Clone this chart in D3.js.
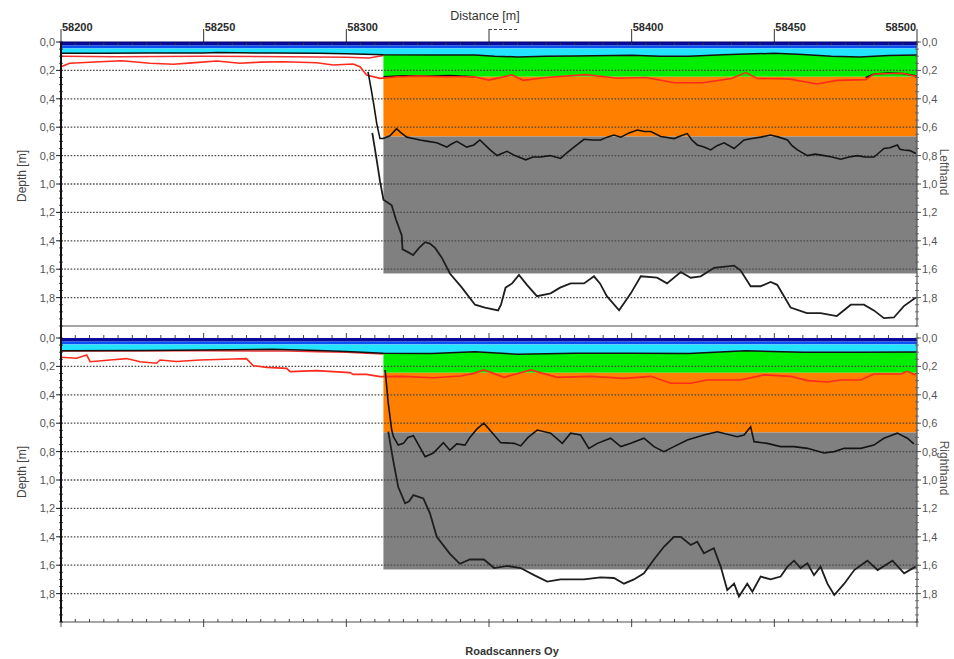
<!DOCTYPE html>
<html><head><meta charset="utf-8">
<script src="https://cdn.jsdelivr.net/npm/d3@7"></script>
<style>body{margin:0;background:#fff}svg{display:block}</style>
</head><body><svg id="c" width="954" height="659"></svg>
<script>
// ---------- DATA ----------
const distDomain = [58200, 58500];
const depthDomain = [0, 2];
const distMajor = [58200, 58250, 58300, 58350, 58400, 58450, 58500];
const distLabels = ["58200", "58250", "58300", "", "58400", "58450", "58500"];
const depthMajor = [0, 0.2, 0.4, 0.6, 0.8, 1.0, 1.2, 1.4, 1.6, 1.8];
const depthLabels = ["0,0", "0,2", "0,4", "0,6", "0,8", "1,0", "1,2", "1,4", "1,6", "1,8"];
const sectionStart = 58313;            // start of interpreted structure
const bandDepths = [0, 0.025, 0.045];  // asphalt surface bands
const greenBottom = 0.245;
const orangeBottom = 0.665;
const grayBottom = 1.63;
const panelNames = ["Lefthand", "Righthand"];

// top panel (Lefthand)
const topTop = [[58200,0.08],[58215,0.079],[58230,0.078],[58250,0.077],[58255,0.074],[58262,0.076],[58275,0.078],[58290,0.08],[58300,0.082],[58313,0.09],[58330,0.092],[58345,0.092],[58352,0.1],[58360,0.105],[58370,0.1],[58380,0.098],[58400,0.094],[58410,0.1],[58420,0.1],[58432,0.09],[58440,0.085],[58450,0.08],[58460,0.088],[58470,0.1],[58480,0.105],[58490,0.095],[58500,0.092]];
const topRed1 = [[58200,0.1],[58220,0.104],[58250,0.1],[58280,0.103],[58300,0.108],[58308,0.112],[58313,0.095]];
const topRed2 = [[58200,0.174],[58203,0.15],[58213.7,0.139],[58221.3,0.132],[58231.2,0.15],[58239.4,0.157],[58247,0.145],[58254.6,0.134],[58262.7,0.15],[58270,0.142],[58277.9,0.139],[58289.6,0.146],[58295.4,0.162],[58302.4,0.155],[58304.8,0.174],[58307.1,0.232],[58311.8,0.256],[58318,0.245],[58325,0.24],[58335,0.245],[58345,0.245],[58350,0.268],[58358,0.232],[58362,0.27],[58370,0.25],[58384,0.23],[58395,0.255],[58405,0.25],[58415,0.287],[58425,0.287],[58435,0.257],[58440,0.215],[58444,0.257],[58455,0.26],[58465,0.296],[58472,0.27],[58482,0.265],[58485,0.225],[58495,0.22],[58500,0.244]];
const topBlk2a = [[58313,0.245],[58320,0.238],[58328,0.242],[58336,0.236],[58345,0.245]];
const topBlk2b = [[58482,0.25],[58485,0.225],[58490,0.218],[58495,0.222],[58500,0.24]];
const topMid = [[58307.6,0.21],[58308.6,0.32],[58309.7,0.45],[58310.7,0.58],[58311.8,0.68],[58312.9,0.68],[58315.3,0.66],[58317.6,0.61],[58319.2,0.64],[58321.2,0.67],[58323.4,0.68],[58325.8,0.69],[58328.6,0.7],[58331.7,0.71],[58335.2,0.74],[58336.7,0.72],[58338.7,0.7],[58342.2,0.74],[58344.7,0.725],[58346.8,0.69],[58350.4,0.76],[58352.8,0.8],[58356.3,0.77],[58359.1,0.8],[58362.9,0.83],[58365.4,0.81],[58368.1,0.81],[58371.4,0.8],[58375.1,0.82],[58377.3,0.78],[58379.8,0.74],[58383.3,0.685],[58386.1,0.69],[58389.1,0.69],[58391.4,0.67],[58393.8,0.655],[58396.2,0.67],[58399.1,0.64],[58402,0.62],[58404.4,0.63],[58406.7,0.63],[58410.2,0.665],[58414.9,0.68],[58417.3,0.66],[58419.5,0.645],[58421.1,0.69],[58423,0.725],[58425.4,0.74],[58427.7,0.76],[58429.9,0.73],[58432.4,0.71],[58435.9,0.75],[58439.4,0.69],[58442.2,0.68],[58445.2,0.67],[58448.7,0.655],[58451.6,0.67],[58454.6,0.69],[58456.2,0.73],[58458.1,0.76],[58461.6,0.8],[58464.3,0.79],[58467.5,0.8],[58470.2,0.81],[58473.3,0.826],[58476.2,0.81],[58479.1,0.8],[58481.8,0.81],[58484.9,0.81],[58486.7,0.78],[58488.4,0.75],[58490.5,0.745],[58493.1,0.725],[58494,0.755],[58495.4,0.76],[58497.5,0.765],[58499.6,0.785]];
const topDeep = [[58309.1,0.64],[58310.4,0.8],[58311.8,0.98],[58313,1.11],[58315.9,1.15],[58317.4,1.25],[58319.4,1.36],[58319.7,1.46],[58321.6,1.48],[58323.4,1.5],[58325.5,1.45],[58327.6,1.41],[58329.3,1.42],[58331.1,1.45],[58333.5,1.52],[58336.3,1.63],[58340.5,1.73],[58345.1,1.85],[58348.6,1.87],[58353.2,1.89],[58354.2,1.85],[58355.8,1.73],[58358.1,1.7],[58360.5,1.64],[58363.3,1.71],[58366.8,1.79],[58371.6,1.77],[58374.9,1.73],[58378.6,1.7],[58383.3,1.7],[58386.8,1.65],[58388.9,1.7],[58391.3,1.79],[58395.6,1.89],[58399.7,1.77],[58403.2,1.65],[58408.9,1.66],[58412.4,1.7],[58417.2,1.62],[58420.7,1.66],[58424.2,1.65],[58428.9,1.59],[58435.9,1.575],[58438.2,1.61],[58441.7,1.72],[58445.2,1.72],[58448.7,1.69],[58451,1.71],[58455.7,1.87],[58461.4,1.91],[58466.2,1.91],[58471.9,1.93],[58476.8,1.85],[58481.4,1.85],[58484.9,1.89],[58488.4,1.945],[58491.9,1.94],[58495.4,1.86],[58499.6,1.8]];

// bottom panel (Righthand)
const botTop = [[58200,0.09],[58230,0.088],[58250,0.085],[58274,0.08],[58290,0.088],[58300,0.095],[58313,0.108],[58330,0.11],[58345,0.096],[58360,0.115],[58380,0.108],[58400,0.108],[58420,0.11],[58440,0.09],[58460,0.1],[58480,0.1],[58500,0.098]];
const botRed1 = [[58200,0.092],[58250,0.09],[58280,0.092],[58290,0.097],[58300,0.1],[58313,0.112]];
const botRed2 = [[58200,0.136],[58205.5,0.143],[58209,0.12],[58210.2,0.167],[58217.2,0.155],[58223,0.145],[58227.7,0.167],[58233.5,0.178],[58234.7,0.155],[58240.5,0.165],[58248.7,0.155],[58260.4,0.148],[58265,0.145],[58267.4,0.195],[58272.1,0.207],[58279.1,0.214],[58280.3,0.237],[58289.6,0.23],[58301.3,0.244],[58302.4,0.256],[58307.1,0.256],[58311.8,0.272],[58320,0.27],[58330.5,0.28],[58340,0.268],[58344.7,0.249],[58348.2,0.225],[58355.3,0.277],[58364.6,0.225],[58373.9,0.277],[58385.6,0.27],[58397.3,0.284],[58406.7,0.27],[58413.7,0.319],[58420.7,0.319],[58426.5,0.296],[58438.2,0.296],[58446.4,0.26],[58455.7,0.27],[58461.6,0.3],[58468.6,0.31],[58473.3,0.296],[58480.3,0.296],[58484.9,0.253],[58494.3,0.253],[58496.6,0.235],[58499.5,0.26]];
const botMid = [[58313.6,0.225],[58314.7,0.46],[58315.9,0.648],[58316.5,0.695],[58318.2,0.754],[58320,0.742],[58321.6,0.7],[58323.5,0.688],[58325.5,0.76],[58327.6,0.836],[58330.5,0.81],[58334,0.737],[58336.3,0.79],[58338.7,0.746],[58341.6,0.754],[58343.3,0.7],[58345.8,0.64],[58348.2,0.6],[58351.8,0.683],[58354.1,0.737],[58358.8,0.742],[58361.1,0.76],[58363.7,0.7],[58366.9,0.648],[58371.6,0.67],[58375.7,0.742],[58378.6,0.67],[58382.1,0.683],[58385,0.777],[58388,0.742],[58392.6,0.706],[58396.2,0.765],[58399.7,0.742],[58404.3,0.706],[58407.8,0.765],[58411.3,0.8],[58414.8,0.765],[58419.5,0.718],[58425.3,0.683],[58430,0.66],[58437,0.695],[58439.4,0.683],[58441.7,0.625],[58442.9,0.73],[58447.5,0.742],[58452.2,0.765],[58456.9,0.765],[58461.6,0.777],[58467.4,0.81],[58471,0.8],[58474.5,0.777],[58480.3,0.777],[58484.9,0.754],[58488.4,0.706],[58493.1,0.67],[58496.6,0.706],[58498.9,0.746]];
const botDeep = [[58314.7,0.66],[58316.4,0.86],[58318.2,1.05],[58320.6,1.164],[58322,1.15],[58323.5,1.106],[58327,1.13],[58329.3,1.235],[58331.7,1.4],[58336.3,1.52],[58339.8,1.59],[58343.3,1.56],[58346.8,1.56],[58348.2,1.56],[58351.8,1.62],[58356.4,1.605],[58361.1,1.62],[58365.8,1.67],[58370.4,1.716],[58375.1,1.7],[58383.3,1.7],[58389.1,1.686],[58393.8,1.69],[58397.3,1.73],[58400.8,1.7],[58404.3,1.657],[58407.8,1.56],[58411.3,1.47],[58414.8,1.4],[58417.2,1.4],[58420.7,1.458],[58423,1.434],[58425.3,1.516],[58428.8,1.48],[58431.2,1.61],[58433.5,1.775],[58435.9,1.73],[58437.6,1.82],[58440.5,1.73],[58442.3,1.787],[58445.2,1.68],[58448.7,1.7],[58452.2,1.68],[58454.6,1.61],[58456.9,1.568],[58459.2,1.62],[58461.6,1.587],[58463.9,1.67],[58466.2,1.61],[58468.6,1.73],[58471,1.81],[58474.5,1.73],[58478,1.634],[58482.6,1.568],[58486.2,1.634],[58491.4,1.568],[58495.5,1.657],[58499.5,1.61]];

// ---------- DRAWING ----------
const svg = d3.select('#c');
const font = "'Liberation Sans', Arial, sans-serif";
const x = d3.scaleLinear().domain(distDomain).range([61, 917]);
const X0 = x.range()[0], X1 = x.range()[1];

const panels = [
  { name: panelNames[0], y: d3.scaleLinear().domain(depthDomain).range([42, 326]),
    top: topTop, red1: topRed1, red2: topRed2, blk2: [topBlk2a, topBlk2b], mid: topMid, deep: topDeep, first: true },
  { name: panelNames[1], y: d3.scaleLinear().domain(depthDomain).range([338, 622]),
    top: botTop, red1: botRed1, red2: botRed2, blk2: [], mid: botMid, deep: botDeep, first: false }
];

const minorDist = d3.range(distDomain[0], distDomain[1] + 0.001, 5);
const minorDepth = d3.range(0, 2.0001, 0.05);

panels.forEach(p => {
  const y = p.y;
  const g = svg.append('g');
  const line = d3.line().x(d => x(d[0])).y(d => y(d[1]));

  // surface bands
  g.append('rect').attr('x', X0).attr('width', X1 - X0)
    .attr('y', y(bandDepths[0])).attr('height', y(bandDepths[1]) - y(bandDepths[0])).attr('fill', '#0a0a9c');
  g.append('rect').attr('x', X0).attr('width', X1 - X0)
    .attr('y', y(bandDepths[1])).attr('height', y(bandDepths[2]) - y(bandDepths[1])).attr('fill', '#0a50f2');
  g.append('path').datum(p.top)
    .attr('d', d3.area().x(d => x(d[0])).y0(y(bandDepths[2])).y1(d => y(d[1])))
    .attr('fill', '#22e4ff');

  // structure layers
  const topRight = p.top.filter(d => d[0] >= sectionStart);
  g.append('path').datum(topRight)
    .attr('d', d3.area().x(d => x(d[0])).y0(y(greenBottom)).y1(d => y(d[1])))
    .attr('fill', '#00ee00');
  g.append('rect').attr('x', x(sectionStart)).attr('width', X1 - x(sectionStart))
    .attr('y', y(greenBottom)).attr('height', y(orangeBottom) - y(greenBottom)).attr('fill', '#ff8000');
  g.append('rect').attr('x', x(sectionStart)).attr('width', X1 - x(sectionStart))
    .attr('y', y(orangeBottom)).attr('height', y(grayBottom) - y(orangeBottom)).attr('fill', '#808080');

  // dotted grid
  depthMajor.slice(1).forEach(v => {
    g.append('line').attr('x1', X0).attr('x2', X1).attr('y1', y(v)).attr('y2', y(v))
      .attr('stroke', '#4a4a4a').attr('stroke-width', 1.3).attr('stroke-dasharray', '1.6,1.6');
  });

  // interface lines
  g.append('path').datum(p.red1).attr('d', line).attr('fill', 'none').attr('stroke', '#f03030').attr('stroke-width', 1.5);
  g.append('path').datum(p.top).attr('d', line).attr('fill', 'none').attr('stroke', '#111').attr('stroke-width', 1.5);
  p.blk2.forEach(s => g.append('path').datum(s).attr('d', line).attr('fill', 'none').attr('stroke', '#111').attr('stroke-width', 1.5));
  g.append('path').datum(p.red2).attr('d', line).attr('fill', 'none').attr('stroke', '#ff2a1a').attr('stroke-width', 1.6);
  g.append('path').datum(p.mid).attr('d', line).attr('fill', 'none').attr('stroke', '#141414').attr('stroke-width', 1.6);
  g.append('path').datum(p.deep).attr('d', line).attr('fill', 'none').attr('stroke', '#1e1e1e').attr('stroke-width', 1.8);

  const yTop = y.range()[0], yBot = y.range()[1];

  // frame
  g.append('line').attr('x1', X0).attr('x2', X1).attr('y1', yBot).attr('y2', yBot).attr('stroke', '#888').attr('stroke-width', 1.5);
  g.append('line').attr('x1', X1).attr('x2', X1).attr('y1', yTop).attr('y2', yBot).attr('stroke', '#555').attr('stroke-width', 1.2);

  // x ticks
  minorDist.forEach(v => {
    const major = distMajor.includes(v);
    if (p.first) {
      g.append('line').attr('x1', x(v)).attr('x2', x(v)).attr('y1', major ? yTop - 13 : yTop).attr('y2', yTop + 3)
        .attr('stroke', '#333').attr('stroke-width', 1);
    } else {
      g.append('line').attr('x1', x(v)).attr('x2', x(v)).attr('y1', major ? yTop - 5 : yTop - 3).attr('y2', yTop)
        .attr('stroke', '#444').attr('stroke-width', 1);
      g.append('line').attr('x1', x(v)).attr('x2', x(v)).attr('y1', yBot - 3).attr('y2', major ? yBot + 5 : yBot)
        .attr('stroke', '#444').attr('stroke-width', 1);
    }
  });

  // y ticks & labels
  minorDepth.forEach(v => {
    g.append('line').attr('x1', X0 - 2).attr('x2', X0 + 2).attr('y1', y(v)).attr('y2', y(v)).attr('stroke', '#222').attr('stroke-width', 0.8);
    g.append('line').attr('x1', X1 - 2).attr('x2', X1 + 2).attr('y1', y(v)).attr('y2', y(v)).attr('stroke', '#555').attr('stroke-width', 0.8);
  });
  depthMajor.forEach((v, i) => {
    g.append('line').attr('x1', X0 - 5).attr('x2', X0).attr('y1', y(v)).attr('y2', y(v)).attr('stroke', '#222');
    g.append('line').attr('x1', X1).attr('x2', X1 + 4).attr('y1', y(v)).attr('y2', y(v)).attr('stroke', '#555');
    g.append('text').attr('x', X0 - 6).attr('y', y(v) + 4).attr('text-anchor', 'end')
      .attr('font-family', font).attr('font-size', 11).attr('fill', '#555').text(depthLabels[i]);
    g.append('text').attr('x', X1 + 5).attr('y', y(v) + 4).attr('text-anchor', 'start')
      .attr('font-family', font).attr('font-size', 11).attr('fill', '#555').text(depthLabels[i]);
  });

  // axis titles
  const cy = (yTop + yBot) / 2 - 8;
  g.append('text').attr('transform', `translate(26,${cy}) rotate(-90)`).attr('text-anchor', 'middle')
    .attr('font-family', font).attr('font-size', 12).attr('fill', '#444').text('Depth [m]');
  g.append('text').attr('transform', `translate(940,${cy - 4}) rotate(90)`).attr('text-anchor', 'middle')
    .attr('font-family', font).attr('font-size', 12).attr('fill', '#555').text(p.name);
});

// left axis (continuous)
svg.append('line').attr('x1', X0).attr('x2', X0).attr('y1', panels[0].y.range()[0]).attr('y2', panels[1].y.range()[1])
  .attr('stroke', '#111').attr('stroke-width', 2);
svg.append('line').attr('x1', X0).attr('x2', X1).attr('y1', panels[0].y.range()[0]).attr('y2', panels[0].y.range()[0])
  .attr('stroke', '#000070').attr('stroke-width', 1);

// top distance labels
distMajor.forEach((v, i) => {
  if (!distLabels[i]) return;
  const last = i === distMajor.length - 1;
  svg.append('text').attr('x', last ? x(v) - 1 : x(v) + 1).attr('y', 31)
    .attr('text-anchor', last ? 'end' : 'start')
    .attr('font-family', font).attr('font-weight', 'bold').attr('font-size', 11).attr('fill', '#2a2a2a')
    .text(distLabels[i]);
});
// unlabeled major tick marker
const xm = x(distMajor[3]);
svg.append('line').attr('x1', xm).attr('x2', xm + 30).attr('y1', 29.5).attr('y2', 29.5)
  .attr('stroke', '#444').attr('stroke-dasharray', '3,2');

svg.append('text').attr('x', 485).attr('y', 20).attr('text-anchor', 'middle')
  .attr('font-family', font).attr('font-size', 12.5).attr('fill', '#333').text('Distance [m]');

svg.append('text').attr('x', 512).attr('y', 655).attr('text-anchor', 'middle')
  .attr('font-family', font).attr('font-weight', 'bold').attr('font-size', 11).attr('fill', '#333').text('Roadscanners Oy');
</script></body></html>
